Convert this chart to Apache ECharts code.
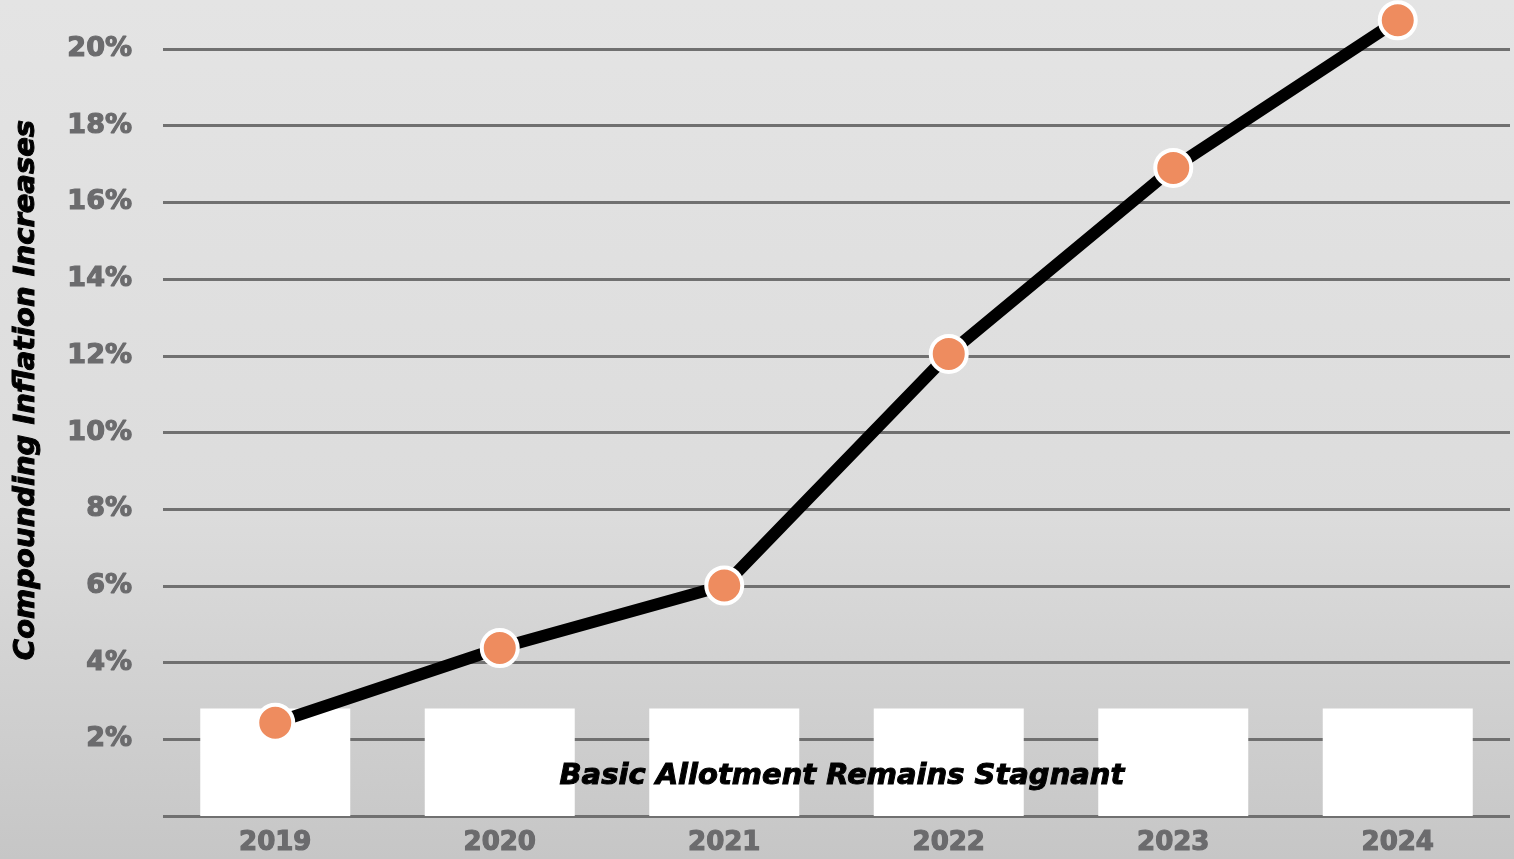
<!DOCTYPE html>
<html><head><meta charset="utf-8">
<script src="https://cdn.jsdelivr.net/npm/echarts@6/dist/echarts.min.js"></script>
<style>html,body{margin:0;padding:0;}#c{width:1514px;height:859px;}</style>
</head><body><div id="c"></div>
<script>
const categories = ['2019','2020','2021','2022','2023','2024'];
const inflation = [2.43, 4.38, 6.01, 12.05, 16.9, 20.75];
const allotment = [2.8, 2.8, 2.8, 2.8, 2.8, 2.8];
const yTicks = [0, 20, 2]; // min, max, interval
const yAxisTitle = 'Compounding Inflation Increases';
const barLabel = 'Basic Allotment Remains Stagnant';

const FONT = 'DejaVu Sans';
const GREY = '#6b6b6d';
const chart = echarts.init(document.getElementById('c'));
chart.setOption({
  backgroundColor: {type:'linear', x:0, y:0, x2:0, y2:1, colorStops:[
    {offset:0, color:'#e4e4e4'}, {offset:0.6, color:'#dcdcdc'}, {offset:1, color:'#c6c6c6'}]},
  animation: false,
  grid: {left:163, right:4, top:49, bottom:43},
  xAxis: {
    type:'category', data: categories,
    axisLine:{show:false}, axisTick:{show:false},
    axisLabel:{color:GREY, fontFamily:FONT, fontWeight:'bold', fontSize:26, margin:14,
      textBorderColor:GREY, textBorderWidth:1.2}
  },
  yAxis: {
    type:'value', min:yTicks[0], max:yTicks[1], interval:yTicks[2],
    axisLine:{show:false}, axisTick:{show:false},
    axisLabel:{color:GREY, fontFamily:FONT, fontWeight:'bold', fontSize:27, margin:31,
      showMinLabel:false, formatter:'{value}%', textBorderColor:GREY, textBorderWidth:1.2},
    splitLine:{lineStyle:{color:'#707070', width:3}}
  },
  graphic: [{
    type:'text', x:26, y:390, rotation:Math.PI/2, z:100,
    style:{text: yAxisTitle, fill:'#000', font:'italic bold 29px "DejaVu Sans"',
      stroke:'#000', lineWidth:1, align:'center', verticalAlign:'middle'}
  }, {
    type:'text', left:559, top:761, z:100,
    style:{text: barLabel, fill:'#000', font:'italic bold 29px "DejaVu Sans"',
      stroke:'#000', lineWidth:1}
  }],
  series: [
    {type:'bar', data: allotment, barWidth:150, silent:true, z:2,
     itemStyle:{color:'#ffffff'}},
    {type:'line', data: inflation, clip:false, z:5,
     lineStyle:{color:'#000', width:12},
     symbol:'circle', symbolSize:36,
     itemStyle:{color:'#ee8c5f', borderColor:'#ffffff', borderWidth:4}}
  ]
});
</script></body></html>
